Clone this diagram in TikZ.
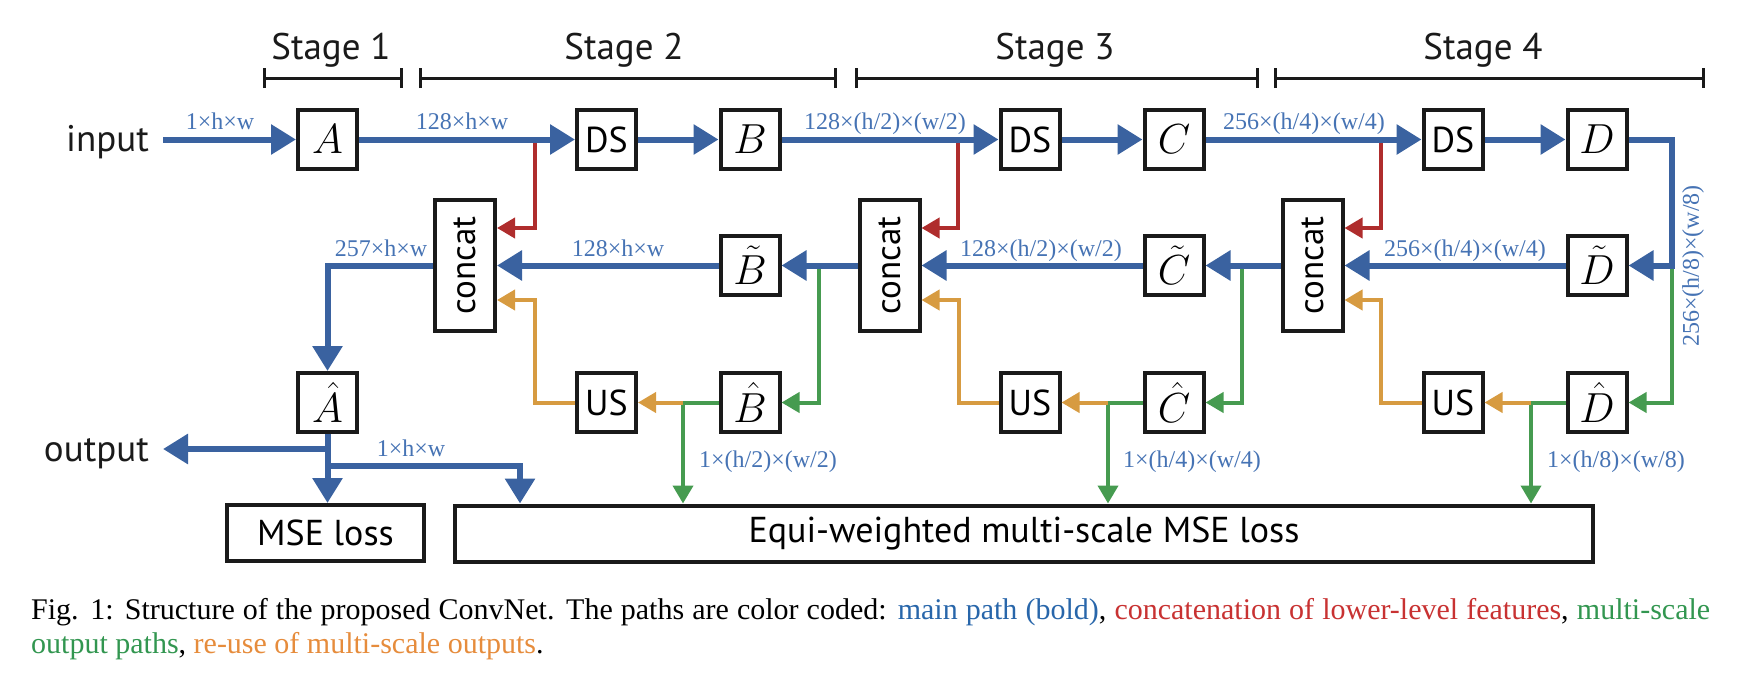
\RequirePackage{fix-cm}
\documentclass[tikz,border=0pt]{standalone}
\usepackage{fontspec}
\usetikzlibrary{arrows.meta,calc}
\newfontfamily\diagsans{PT Sans}
\newfontfamily\labserif{Liberation Serif}
\definecolor{mainblue}{HTML}{3A62A0}
\definecolor{labblue}{HTML}{4673B4}
\definecolor{cred}{HTML}{AF2D2D}
\definecolor{corange}{HTML}{D79B41}
\definecolor{cgreen}{HTML}{469B50}
\definecolor{boxk}{HTML}{1A1A1A}
\definecolor{capblue}{HTML}{2866AA}
\definecolor{capred}{HTML}{C83232}
\definecolor{capgreen}{HTML}{329650}
\definecolor{caporange}{HTML}{E68C3C}
\begin{document}
\begin{tikzpicture}[x=1pt,y=-1pt,line join=miter,
  nbox/.style={draw=boxk,line width=4pt,minimum width=59pt,minimum height=59pt,inner sep=0pt,fill=white},
  mathbox/.style={nbox,font=\fontsize{42}{42}\selectfont},
  opbox/.style={nbox,font=\diagsans\fontsize{36}{36}\selectfont},
  catbox/.style={nbox,minimum width=60pt,minimum height=131pt,font=\diagsans\fontsize{35}{35}\selectfont},
  lossbox/.style={nbox,minimum height=56pt,font=\diagsans\fontsize{36}{36}\selectfont},
  stagetxt/.style={font=\diagsans\fontsize{37}{37}\selectfont,text=boxk,inner sep=0pt,anchor=base},
  iotxt/.style={font=\diagsans\fontsize{37}{37}\selectfont,text=boxk,inner sep=0pt,anchor=base east},
  bracket/.style={draw=boxk,line width=3pt,{Bar[width=20pt]}-{Bar[width=20pt]}},
  mainpath/.style={draw=mainblue,line width=6pt,-{Triangle[length=25pt,width=29pt]}},
  redpath/.style={draw=cred,line width=4pt,-{Triangle[length=18pt,width=20pt]}},
  orpath/.style={draw=corange,line width=4pt,-{Triangle[length=18pt,width=20pt]}},
  grpath/.style={draw=cgreen,line width=4pt,-{Triangle[length=18pt,width=20pt]}},
  grline/.style={draw=cgreen,line width=4pt},
  dimlab/.style={text=labblue,font=\labserif\fontsize{24}{24}\selectfont,inner sep=0pt,anchor=base},
  captxt/.style={font=\labserif\fontsize{30}{34}\selectfont,inner sep=0pt,anchor=base west}
]
\useasboundingbox (0,0) rectangle (1752,680);

% stage headers
\node[stagetxt] (s1) at (331,59) {Stage 1};
\node[stagetxt] (s2) at (624,59) {Stage 2};
\node[stagetxt] (s3) at (1055,59) {Stage 3};
\node[stagetxt] (s4) at (1483,59) {Stage 4};
\draw[bracket] (263,78) -- (403,78);
\draw[bracket] (419,78) -- (837,78);
\draw[bracket] (855,78) -- (1259,78);
\draw[bracket] (1274,78) -- (1705,78);

% boxes row 1
\node[mathbox] (A) at (327.5,139.5) {$A$};
\node[opbox] (DS1) at (606.5,139.5) {DS};
\node[mathbox] (B) at (750,139.5) {$B$};
\node[opbox] (DS2) at (1030,139.5) {DS};
\node[mathbox] (C) at (1174,139.5) {$C$};
\node[opbox] (DS3) at (1453,139.5) {DS};
\node[mathbox] (D) at (1597,139.5) {$D$};
% row 2
\node[catbox] (cat1) at (465,265.5) {\rotatebox{90}{concat}};
\node[catbox] (cat2) at (889.5,265.5) {\rotatebox{90}{concat}};
\node[catbox] (cat3) at (1312.5,265.5) {\rotatebox{90}{concat}};
\node[mathbox] (Bt) at (750,265.5) {$\tilde{B}$};
\node[mathbox] (Ct) at (1174,265.5) {$\tilde{C}$};
\node[mathbox] (Dt) at (1597,265.5) {$\tilde{D}$};
% row 3
\node[mathbox] (Ah) at (327.5,402.5) {$\hat{A}$};
\node[opbox] (US1) at (606.5,402.5) {US};
\node[mathbox] (Bh) at (750,402.5) {$\hat{B}$};
\node[opbox] (US2) at (1030,402.5) {US};
\node[mathbox] (Ch) at (1174,402.5) {$\hat{C}$};
\node[opbox] (US3) at (1453,402.5) {US};
\node[mathbox] (Dh) at (1597,402.5) {$\hat{D}$};
% losses
\node[lossbox,minimum width=197pt] (MSE) at (325.5,533) {MSE loss};
\node[lossbox,minimum width=1138pt] (Equi) at (1024,533.5) {Equi-weighted multi-scale MSE loss};

% input / output
\node[iotxt] (in) at (149,151) {input};
\node[iotxt] (out) at (149,461) {output};

% coordinates
\coordinate (inS) at (163,139.5);
\coordinate (outE) at (163,449);
\coordinate (o1) at (327.5,449);
\coordinate (o2) at (327.5,466);
\coordinate (r1) at (535,139.5);
\coordinate (r2) at (958,139.5);
\coordinate (r3) at (1381,139.5);
\coordinate (g1) at (819,265.5);
\coordinate (g2) at (1242,265.5);
\coordinate (dr) at (1672,265.5);
\coordinate (j1) at (683,402.5);
\coordinate (j2) at (1108,402.5);
\coordinate (j3) at (1531,402.5);

% red: concatenation of lower-level features
\draw[redpath] (r1) |- ([yshift=37.5pt]cat1.east);
\draw[redpath] (r2) |- ([yshift=37.5pt]cat2.east);
\draw[redpath] (r3) |- ([yshift=37.5pt]cat3.east);

% green: multi-scale outputs
\draw[grpath] (g1) |- (Bh.east);
\draw[grpath] (g2) |- (Ch.east);
\draw[grpath] (dr) |- (Dh.east);
\draw[grline] (Bh.west) -- (j1);
\draw[grline] (Ch.west) -- (j2);
\draw[grline] (Dh.west) -- (j3);
\draw[grpath] (j1) -- (j1 |- Equi.north);
\draw[grpath] (j2) -- (j2 |- Equi.north);
\draw[grpath] (j3) -- (j3 |- Equi.north);

% orange: re-use of multi-scale outputs
\draw[orpath] (j1) -- (US1.east);
\draw[orpath] (j2) -- (US2.east);
\draw[orpath] (j3) -- (US3.east);
\draw[orpath] (US1.west) -| ($(cat1.east)+(38,34.5)$) -- ($(cat1.east)+(0,34.5)$);
\draw[orpath] (US2.west) -| ($(cat2.east)+(37,34.5)$) -- ($(cat2.east)+(0,34.5)$);
\draw[orpath] (US3.west) -| ($(cat3.east)+(36.5,34.5)$) -- ($(cat3.east)+(0,34.5)$);

% main path (blue)
\draw[mainpath] (inS) -- (A.west);
\draw[mainpath] (A.east) -- (DS1.west);
\draw[mainpath] (DS1.east) -- (B.west);
\draw[mainpath] (B.east) -- (DS2.west);
\draw[mainpath] (DS2.east) -- (C.west);
\draw[mainpath] (C.east) -- (DS3.west);
\draw[mainpath] (DS3.east) -- (D.west);
\draw[mainpath] (D.east) -| (dr) -- (Dt.east);
\draw[mainpath] (Dt.west) -- (cat3.east);
\draw[mainpath] (cat3.west) -- (Ct.east);
\draw[mainpath] (Ct.west) -- (cat2.east);
\draw[mainpath] (cat2.west) -- (Bt.east);
\draw[mainpath] (Bt.west) -- (cat1.east);
\draw[mainpath] (cat1.west) -| (Ah.north);
\draw[mainpath] (Ah.south) -- (Ah.south |- MSE.north);
\draw[mainpath] (o1) -- (outE);
\draw[mainpath] (o2) -| ($(Equi.north west)+(67,0)$);

% dimension labels
\node[dimlab] (l1) at (220,129) {1×h×w};
\node[dimlab] (l2) at (462,129) {128×h×w};
\node[dimlab] (l3) at (885,129) {128×(h/2)×(w/2)};
\node[dimlab] (l4) at (1304,129) {256×(h/4)×(w/4)};
\node[dimlab] (l5) at (381,256) {257×h×w};
\node[dimlab] (l6) at (618,256) {128×h×w};
\node[dimlab] (l7) at (1041,256) {128×(h/2)×(w/2)};
\node[dimlab] (l8) at (1465,256) {256×(h/4)×(w/4)};
\node[dimlab] (l9) at (411,456) {1×h×w};
\node[dimlab] (l10) at (768,467) {1×(h/2)×(w/2)};
\node[dimlab] (l11) at (1192,467) {1×(h/4)×(w/4)};
\node[dimlab] (l12) at (1616,467) {1×(h/8)×(w/8)};
\node[dimlab,anchor=center,rotate=90] (l13) at (1693,266) {256×(h/8)×(w/8)};

% caption
\node[captxt] (cap1) at (31,619) {\makebox[1679pt][s]{Fig. 1: Structure of the proposed ConvNet. The paths are color coded: \textcolor{capblue}{main path (bold)}, \textcolor{capred}{concatenation of lower-level features}, \textcolor{capgreen}{multi-scale}}};
\node[captxt] (cap2) at (31,653) {\textcolor{capgreen}{output paths}, \textcolor{caporange}{re-use of multi-scale outputs}.};
\end{tikzpicture}
\end{document}
